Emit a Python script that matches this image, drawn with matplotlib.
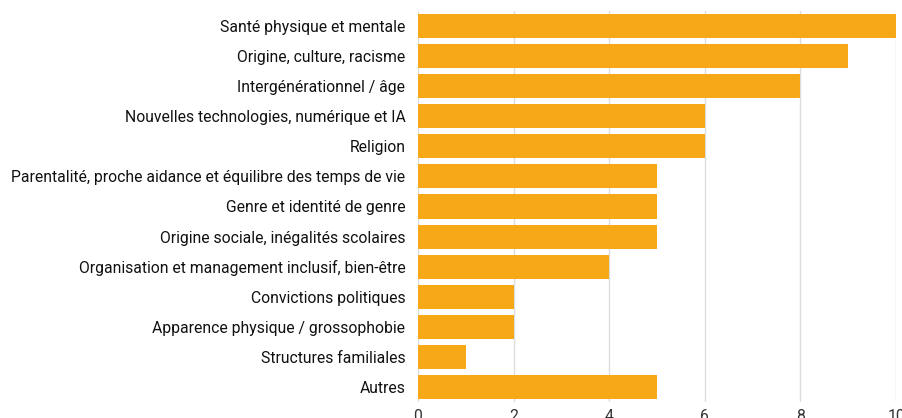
import matplotlib
matplotlib.use("Agg")
import matplotlib.pyplot as plt

categories = [
    "Santé physique et mentale",
    "Origine, culture, racisme",
    "Intergénérationnel / âge",
    "Nouvelles technologies, numérique et IA",
    "Religion",
    "Parentalité, proche aidance et équilibre des temps de vie",
    "Genre et identité de genre",
    "Origine sociale, inégalités scolaires",
    "Organisation et management inclusif, bien-être",
    "Convictions politiques",
    "Apparence physique / grossophobie",
    "Structures familiales",
    "Autres",
]
values = [10, 9, 8, 6, 6, 5, 5, 5, 4, 2, 2, 1, 5]
xticks = [0, 2, 4, 6, 8, 10]

plt.rcParams['font.family'] = ['Roboto', 'DejaVu Sans']

fig = plt.figure(figsize=(9.03, 4.18), dpi=100)
ax = fig.add_axes([0.4629, 0.0383, 0.5294, 0.9354])

color = "#F6A817"
ypos = list(range(len(categories)))
ax.barh(ypos, values, height=0.8, color=color, zorder=3)

ax.set_yticks(ypos)
ax.set_yticklabels(categories, fontsize=11.3, color="#111111")
ax.set_ylim(len(categories) - 0.5, -0.5)
ax.set_xlim(0, 10)
ax.set_xticks(xticks)
ax.set_xticklabels([str(t) for t in xticks], fontsize=11.3, color="#333333")
ax.tick_params(axis='both', length=0)
ax.tick_params(axis='y', pad=9)
ax.tick_params(axis='x', pad=5)
ax.grid(axis='x', color="#dddddd", linewidth=1, zorder=0)
for s in ax.spines.values():
    s.set_visible(False)

fig.savefig("out.png", dpi=100)
